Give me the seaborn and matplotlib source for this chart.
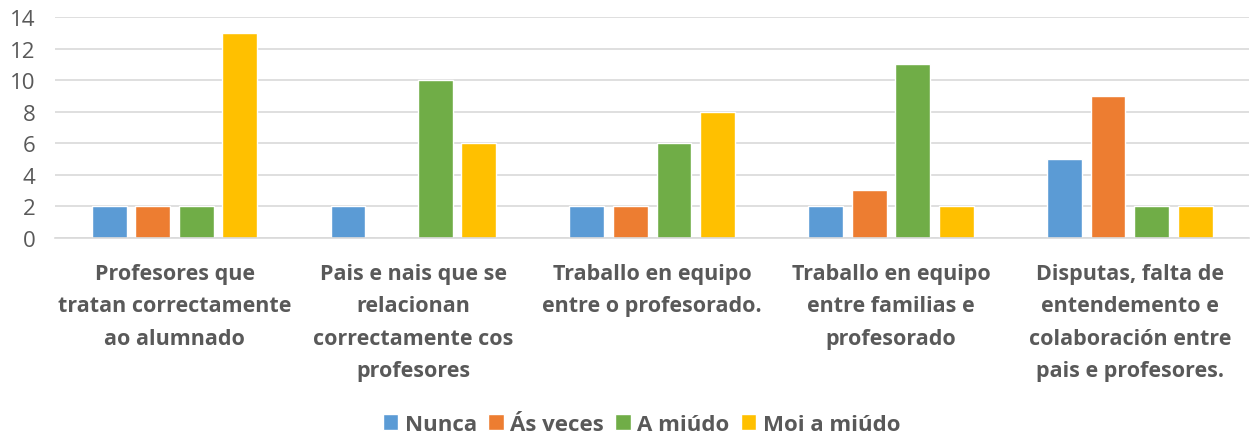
import pandas as pd
import seaborn as sns
import matplotlib.pyplot as plt

categorias = [
    "Profesores que\ntratan correctamente\nao alumnado",
    "Pais e nais que se\nrelacionan\ncorrectamente cos\nprofesores",
    "Traballo en equipo\nentre o profesorado.",
    "Traballo en equipo\nentre familias e\nprofesorado",
    "Disputas, falta de\nentendemento e\ncolaboración entre\npais e profesores.",
]
series = ["Nunca", "Ás veces", "A miúdo", "Moi a miúdo"]
nunca = [2, 2, 2, 2, 5]
as_veces = [2, 0, 2, 3, 9]
a_miudo = [2, 10, 6, 11, 2]
moi_a_miudo = [13, 6, 8, 2, 2]
cores = ["#5B9BD5", "#ED7D31", "#70AD47", "#FFC000"]

rows = []
for s, vals in zip(series, [nunca, as_veces, a_miudo, moi_a_miudo]):
    for c, v in zip(categorias, vals):
        rows.append({"categoria": c, "serie": s, "valor": v})
df = pd.DataFrame(rows)

sns.set_style("white")
plt.rcParams['font.family'] = ['Open Sans', 'DejaVu Sans']
texto = "#595959"

fig = plt.figure(figsize=(12.53, 4.39), dpi=100)
ax = fig.add_axes([0.044, 0.456, 0.953, 0.503])

sns.barplot(data=df, x="categoria", y="valor", hue="serie", palette=cores,
            width=0.73, gap=0.2, saturation=1, ax=ax, legend=True)

ax.set_ylim(0, 14)
ax.set_yticks(range(0, 15, 2))
ax.yaxis.grid(True, color="#D9D9D9", linewidth=1.2)
ax.set_axisbelow(True)
for sp in ["top", "right", "left"]:
    ax.spines[sp].set_visible(False)
ax.spines["bottom"].set_color("#D9D9D9")
ax.spines["bottom"].set_linewidth(1.2)
ax.set_xlabel("")
ax.set_ylabel("")
ax.tick_params(axis="y", labelsize=16, colors=texto, length=0, pad=14)
ax.tick_params(axis="x", labelsize=15.5, colors=texto, length=0, pad=18)
for t in ax.get_xticklabels():
    t.set_fontweight("bold")
    t.set_linespacing(1.72)
    t.set_verticalalignment("top")

ax.legend_.remove()
handles, labels = ax.get_legend_handles_labels()
leg = fig.legend(handles, labels, loc="center", bbox_to_anchor=(0.512, 0.031),
                 ncol=4, frameon=False, handlelength=0.7, handleheight=0.7,
                 handletextpad=0.3, columnspacing=0.5,
                 prop={"size": 16, "weight": "bold"})
for t in leg.get_texts():
    t.set_color(texto)

fig.savefig("out.png", dpi=100)
